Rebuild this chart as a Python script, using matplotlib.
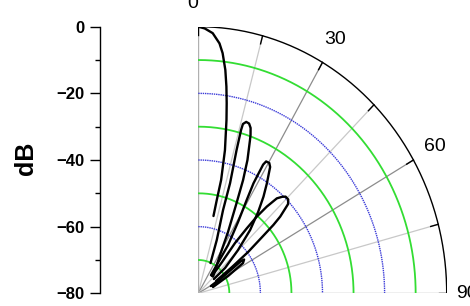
import numpy as np
import matplotlib
matplotlib.use("Agg")
import matplotlib.pyplot as plt

plt.rcParams['font.family'] = ['Liberation Sans', 'DejaVu Sans']

############################################
# DATA (angle from broadside in deg, level in dB)
############################################

main_deg = [0, 1.5, 3.4, 5.2, 6.2, 7.4, 8.3, 9.1, 9.9, 11.3, 12.2, 12.0, 11.9]
main_db  = [0, -0.5, -1.8, -4.7, -7.5, -12.4, -17.3, -22.2, -27.2, -36.2, -45.2, -51.4, -56.3]

lobe1_deg = [23.4, 20.4, 17.7, 17.2, 16.0, 15.7, 15.8, 16.7, 17.8, 18.75, 19.5,
             19.9, 21.6, 23.0, 24.6, 27.5, 31.3, 43.5]
lobe1_db  = [-70.1, -62.9, -53.8, -45.4, -35.3, -29.1, -27.2, -26.3, -26.5, -27.6, -29.6,
             -31.1, -37.0, -43.1, -50.8, -59.3, -66.5, -73.1]

lobe2_deg = [36.8, 33.5, 30.9, 29.1, 28.3, 28.4, 28.9, 30.3, 31.4, 33.8, 35.9,
             38.3, 41.3, 44.6, 48.6, 49.6]
lobe2_db  = [-73.2, -62.6, -55.1, -47.9, -42.5, -36.1, -34.8, -34.7, -35.6, -40.3, -44.2,
             -48.9, -54.7, -61.8, -68.5, -73.4]

lobe3_deg = [40.4, 39.2, 38.1, 38.7, 39.3, 40.3, 41.6, 43.0, 44.1, 45.8, 47.2,
             48.9, 49.7, 50.6, 52.3, 54.0, 57.1]
lobe3_db  = [-73.2, -67.9, -60.8, -55.0, -50.3, -45.9, -41.9, -40.4, -39.6, -39.6, -40.6,
             -45.0, -48.3, -53.4, -59.7, -66.6, -73.2]

lobe4_deg = [61.9, 57.5, 54.9, 55.5, 57.8, 61.6, 68.3]
lobe4_db  = [-75.4, -69.8, -63.2, -62.1, -63.0, -69.1, -74.9]

ring_db     = [-10, -20, -30, -40, -50, -60, -70]
spoke_deg   = [15, 30, 45, 60, 75]
angle_ticks = [0, 30, 60, 90]
angle_label_r = [87, 88, 88, 86.5]
db_ticks    = [0, -20, -40, -60, -80]

DB_MIN = -80

############################################
# HELPERS
############################################

def to_xy(deg, db):
    th = np.radians(np.asarray(deg, dtype=float))
    r = np.asarray(db, dtype=float) - DB_MIN
    return r * np.sin(th), r * np.cos(th)

############################################
# FIGURE
############################################

W, H = 470, 306
fig = plt.figure(figsize=(W / 100, H / 100), dpi=100)

# quarter polar drawn on cartesian axes (picture is slightly stretched)
ax = fig.add_axes([198.3 / W, (H - 293.3) / H, 248.4 / W, 266.6 / H])
ax.set_xlim(0, 80)
ax.set_ylim(0, 80)
ax.axis("off")

arc = np.linspace(0, 90, 200)
for db in ring_db:
    x, y = to_xy(arc, np.full_like(arc, db))
    if db % 20 == 0:
        ax.plot(x, y, color="#3a3ad8", lw=1.0, ls=(0, (1, 0.6)), zorder=2)
    else:
        ax.plot(x, y, color="#33dd33", lw=1.3, zorder=2)

for a in spoke_deg:
    x, y = to_xy([a, a], [DB_MIN, 0])
    c = "#8c8c8c" if a % 30 == 0 else "#c8c8c8"
    ax.plot(x, y, color=c, lw=0.9, zorder=1)

# edges of the quarter
x, y = to_xy([0, 0], [DB_MIN, 0])
ax.plot(x, y, color="#b0b0b0", lw=1.0, zorder=1)
x, y = to_xy([90, 90], [DB_MIN, 0])
ax.plot(x, y, color="#b0b0b0", lw=1.0, zorder=1)

x, y = to_xy(arc, np.zeros_like(arc))
ax.plot(x, y, color="black", lw=1.0, zorder=3)

for a in [0] + spoke_deg + [90]:
    x, y = to_xy([a, a], [-2.5, 0])
    ax.plot(x, y, color="black", lw=1.0, zorder=3)

for a, rl in zip(angle_ticks, angle_label_r):
    x, y = to_xy(a, -80 + rl)
    ha = "right" if a == 0 else "center"
    ax.text(x, y, str(a), fontsize=14, ha=ha, va="center", clip_on=False)

# beam pattern
for d, v in [(main_deg, main_db), (lobe1_deg, lobe1_db), (lobe2_deg, lobe2_db),
             (lobe3_deg, lobe3_db), (lobe4_deg, lobe4_db)]:
    x, y = to_xy(d, v)
    ax.plot(x, y, color="black", lw=1.7, solid_capstyle="round",
            solid_joinstyle="round", zorder=4)

# dB scale on the left
axl = fig.add_axes([99.5 / W, (H - 293.3) / H, 0.001, 266.6 / H])
axl.set_ylim(-80, 0)
axl.set_xticks([])
for s in ["top", "right", "bottom"]:
    axl.spines[s].set_visible(False)
axl.spines["left"].set_linewidth(1.0)
axl.set_yticks(db_ticks)
axl.set_yticks([-10, -30, -50, -70], minor=True)
axl.tick_params(axis="y", which="major", length=7, width=1.0, pad=4,
                labelsize=12)
axl.tick_params(axis="y", which="minor", length=3.5, width=1.0)
for lab in axl.get_yticklabels():
    lab.set_fontweight("bold")

fig.text(25.5 / W, 1 - 158 / H, "dB", rotation=90, fontsize=18,
         fontweight="bold", ha="center", va="center")

fig.savefig("out.png", dpi=100)
